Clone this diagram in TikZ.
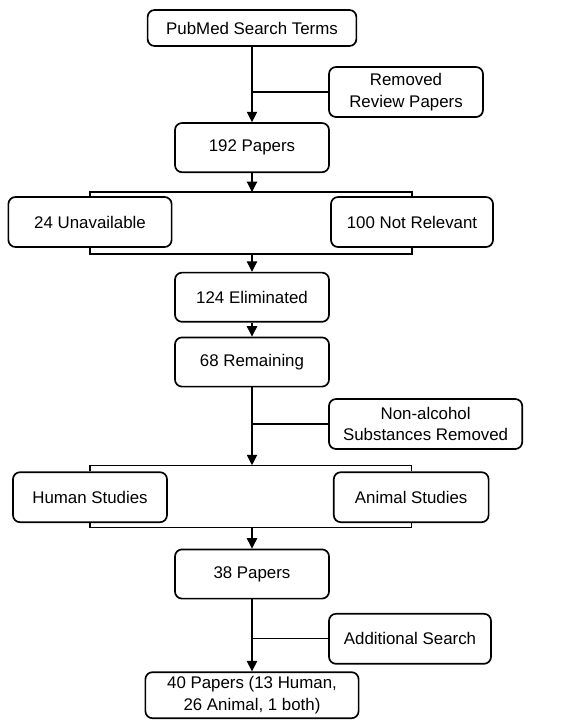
\documentclass[tikz,border=0pt]{standalone}
\usepackage{fontspec}
\setmainfont{Liberation Sans}
\usepackage{tikz}
\usetikzlibrary{arrows.meta,positioning,calc}
\tikzset{
  box/.style={draw,line width=1.2pt,rounded corners=5pt,align=center,font=\fontsize{12}{15.5}\selectfont,inner sep=2pt},
  arr/.style={-{Triangle[length=2.6mm,width=2.6mm]},line width=0.8pt},
  ln/.style={line width=0.8pt}
}
\begin{document}
\begin{tikzpicture}[main/.style={box,minimum width=38.5mm,minimum height=12.3mm},
 side/.style={box,minimum height=12.5mm}]
\useasboundingbox[fill=white] (0,0) rectangle (14.275,-18);
\node[box,minimum width=52.2mm,minimum height=9mm] (terms) at (6.3,-0.7) {PubMed Search Terms};
\node[side,minimum width=38.5mm] (removed) at (10.15,-2.3) {Removed\\Review Papers};
\node[main] (p192) at (6.3,-3.69) {192 Papers};
\node[side,minimum width=40.8mm] (unavail) at (2.25,-5.55) {24 Unavailable};
\node[side,minimum width=40.5mm] (notrel) at (10.3,-5.55) {100 Not Relevant};
\node[main] (elim) at (6.3,-7.43) {124 Eliminated};
\node[main] (remain) at (6.3,-9.05) {68 Remaining};
\node[side,minimum width=48.3mm] (nonalc) at (10.64,-10.6) {Non-alcohol\\Substances Removed};
\node[side,minimum width=38.5mm] (human) at (2.25,-12.43) {Human Studies};
\node[side,minimum width=38.7mm] (animal) at (10.28,-12.43) {Animal Studies};
\node[main] (p38) at (6.3,-14.35) {38 Papers};
\node[side,minimum width=40.5mm] (addsrch) at (10.25,-15.97) {Additional Search};
\node[box,minimum width=53.3mm,minimum height=11.5mm] (final) at (6.3,-17.38) {40 Papers (13 Human,\\26 Animal, 1 both)};
\coordinate (b1) at (6.3,-4.8);
\coordinate (b2) at (6.3,-6.35);
\coordinate (b3) at (6.3,-11.63);
\coordinate (b4) at (6.3,-13.18);
\draw[arr] (terms) -- (p192);
\draw[ln] (removed.west) -- (removed.west -| terms.south);
\draw[arr] (p192) -- (b1);
\draw[ln] (unavail.north) |- (b1) -| (notrel.north);
\draw[ln] (unavail.south) |- (b2) -| (notrel.south);
\draw[arr] (b2) -- (elim);
\draw[arr] (elim) -- (remain);
\draw[arr] (remain) -- (b3);
\draw[ln] (nonalc.west) -- (nonalc.west -| remain.south);
\draw[ln] (human.north) |- (b3) -| (animal.north);
\draw[ln] (human.south) |- (b4) -| (animal.south);
\draw[arr] (b4) -- (p38);
\draw[arr] (p38) -- (final);
\draw[ln] (addsrch.west) -- (addsrch.west -| p38.south);
\end{tikzpicture}
\end{document}
